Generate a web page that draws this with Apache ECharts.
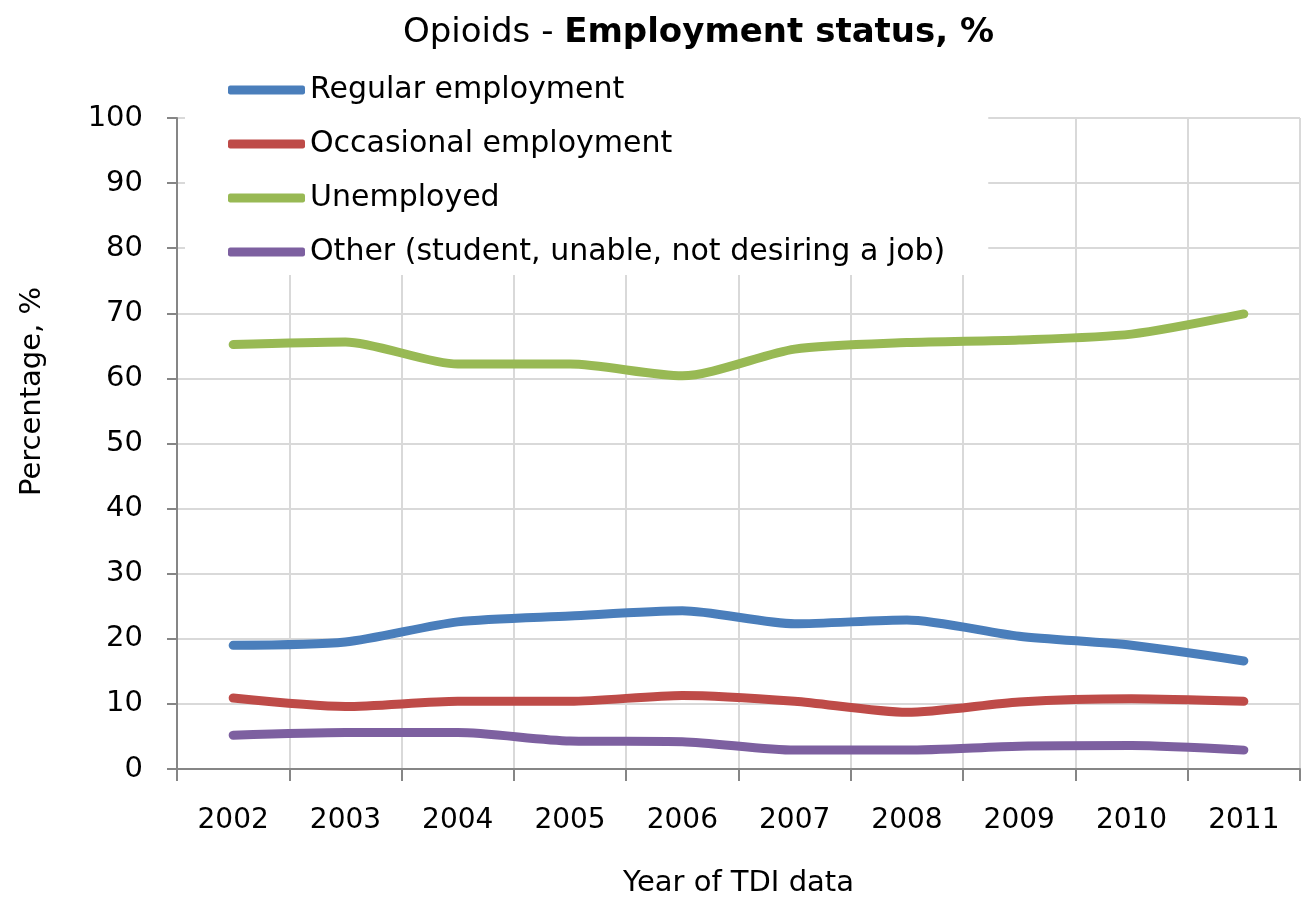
<!DOCTYPE html>
<html>
<head>
<meta charset="utf-8">
<script src="https://cdn.jsdelivr.net/npm/echarts@6/dist/echarts.min.js"></script>
<style>
  html, body { margin: 0; padding: 0; background: #fff; }
  #myChart { width: 1302px; height: 907px; }
</style>
</head>
<body>
<div id="myChart"></div>
<script>
// years on the x axis
const years = ["2002", "2003", "2004", "2005", "2006", "2007", "2008", "2009", "2010", "2011"];
// values, %
const regular = [19.0, 19.5, 22.6, 23.5, 24.3, 22.3, 22.9, 20.4, 19.0, 16.6];
const occasional = [10.9, 9.6, 10.4, 10.4, 11.3, 10.4, 8.7, 10.3, 10.8, 10.4];
const unemployed = [65.2, 65.6, 62.2, 62.2, 60.4, 64.5, 65.5, 65.9, 66.8, 69.9];
const other = [5.2, 5.6, 5.6, 4.3, 4.2, 2.9, 2.9, 3.5, 3.6, 2.9];

const names = [
  "Regular employment",
  "Occasional employment",
  "Unemployed",
  "Other (student, unable, not desiring a job)",
];
const colors = ["#4a7ebb", "#be4b48", "#98b954", "#7d60a0"];

const font = "DejaVu Sans";

let myChart = echarts.init(document.getElementById("myChart"));

function line(name, data, color) {
  return {
    name: name,
    type: "line",
    data: data,
    smooth: 0.25,
    symbol: "none",
    lineStyle: { width: 9, color: color, cap: "round" },
    itemStyle: { color: color },
    z: 3,
  };
}

myChart.setOption({
  animation: false,
  color: colors,
  title: {
    text: "{n|Opioids - }{b|Employment status, %}",
    left: 398,
    top: 11,
    textStyle: {
      rich: {
        n: { fontFamily: font, fontSize: 34, fontWeight: "normal", color: "#000" },
        b: { fontFamily: font, fontSize: 34, fontWeight: "bold", color: "#000" },
      },
    },
  },
  // legend sits on top of the plot, white box hides the grid
  legend: {
    orient: "vertical",
    left: 185,
    top: 67,
    padding: [8, 43, 8, 43],
    backgroundColor: "#fff",
    itemWidth: 77,
    itemHeight: 9,
    itemGap: 24,
    icon: "roundRect",
    data: names,
    textStyle: {
      fontFamily: font,
      fontSize: 30,
      lineHeight: 30,
      color: "#000",
    },
    z: 10,
  },
  grid: {
    left: 177,
    top: 118,
    right: 2,
    bottom: 138,
  },
  xAxis: {
    type: "category",
    boundaryGap: true,
    data: years,
    name: "Year of TDI data",
    nameLocation: "middle",
    nameGap: 100,
    nameTextStyle: { fontFamily: font, fontSize: 29, color: "#000" },
    axisLine: { lineStyle: { color: "#868686", width: 2 } },
    axisTick: { show: true, interval: 0, length: 12, lineStyle: { color: "#868686", width: 2 } },
    axisLabel: { interval: 0, margin: 38, fontFamily: font, fontSize: 28, color: "#000" },
    splitLine: { show: true, interval: 0, lineStyle: { color: "#d9d9d9", width: 2 } },
  },
  yAxis: {
    type: "value",
    min: 0,
    max: 100,
    interval: 10,
    name: "Percentage, %",
    nameLocation: "middle",
    nameGap: 130,
    nameTextStyle: { fontFamily: font, fontSize: 29, color: "#000", padding: [0, 0, 0, 104] },
    axisLine: { show: true, lineStyle: { color: "#868686", width: 2 } },
    axisTick: { show: true, length: 10, lineStyle: { color: "#868686", width: 2 } },
    axisLabel: { margin: 34, fontFamily: font, fontSize: 29, color: "#000" },
    splitLine: { show: true, lineStyle: { color: "#d9d9d9", width: 2 } },
  },
  series: [
    line(names[0], regular, colors[0]),
    line(names[1], occasional, colors[1]),
    line(names[2], unemployed, colors[2]),
    line(names[3], other, colors[3]),
  ],
});
</script>
</body>
</html>
